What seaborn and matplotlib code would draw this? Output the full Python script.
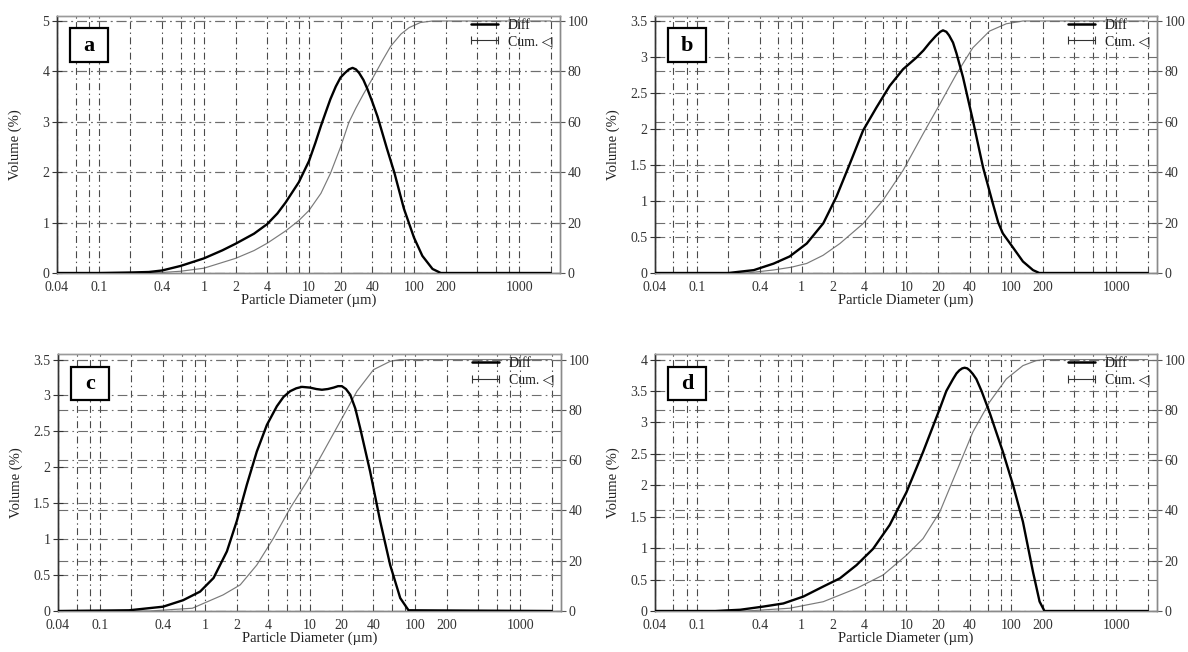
import matplotlib
matplotlib.use("Agg")
import matplotlib.pyplot as plt
import seaborn as sns
import pandas as pd
from matplotlib.lines import Line2D
from matplotlib.patches import Rectangle
from matplotlib.ticker import FixedLocator, NullFormatter

# ---------------- data ----------------
panel_names = ["a", "b", "c", "d"]

a_diff_x = [0.04, 0.1, 0.2, 0.3, 0.4, 0.6, 1.0, 1.5, 2.0, 3.0, 4.0, 5.0, 6.0, 8.0, 10, 11.5, 13, 14.5, 16, 18, 20, 22, 24, 26, 28, 30, 33, 36, 40, 45, 55, 65, 80, 100, 120, 150, 180, 2000]
a_diff_y = [0, 0, 0.01, 0.02, 0.05, 0.14, 0.29, 0.45, 0.58, 0.78, 0.97, 1.18, 1.40, 1.80, 2.22, 2.58, 2.92, 3.20, 3.45, 3.70, 3.88, 3.97, 4.04, 4.07, 4.04, 3.97, 3.83, 3.65, 3.40, 3.10, 2.48, 1.99, 1.28, 0.70, 0.34, 0.08, 0, 0]
a_cum_x = [0.04, 0.2, 0.4, 0.6, 1, 2, 3, 4, 6, 8, 10, 13, 16, 20, 24, 28, 33, 40, 50, 60, 75, 90, 115, 150, 2000]
a_cum_y = [0, 0, 0.2, 0.7, 1.9, 5.8, 8.9, 11.8, 16.7, 20.8, 24.8, 31.6, 39.5, 50, 59.8, 65.5, 71.0, 77, 84.3, 90, 94.8, 97.4, 99.4, 100, 100]

b_diff_x = [0.04, 0.2, 0.35, 0.54, 0.77, 1.12, 1.61, 2.15, 2.89, 3.86, 5.18, 6.93, 9.28, 12.4, 14.5, 16.7, 19, 21, 22.3, 24, 25.5, 27.8, 30, 34.6, 43, 53.7, 66.8, 75, 83, 103, 129, 161, 185, 2000]
b_diff_y = [0, 0, 0.04, 0.13, 0.23, 0.41, 0.69, 1.06, 1.52, 1.98, 2.30, 2.60, 2.83, 2.99, 3.09, 3.20, 3.29, 3.35, 3.37, 3.35, 3.30, 3.20, 3.05, 2.72, 2.12, 1.47, 0.96, 0.70, 0.55, 0.36, 0.16, 0.04, 0, 0]
b_cum_x = [0.04, 0.3, 0.54, 0.8, 1.12, 1.6, 2.32, 3.86, 5.98, 9.28, 14.4, 20.8, 29.9, 43, 62, 89.6, 129, 2000]
b_cum_y = [0, 0, 1.2, 2.3, 3.8, 7.0, 11.7, 19.6, 28.9, 40.7, 55.2, 67, 78.9, 89.4, 96, 98.9, 100, 100]

c_diff_x = [0.04, 0.19, 0.40, 0.62, 0.90, 1.21, 1.62, 2.01, 2.51, 3.12, 3.89, 4.84, 5.6, 6.48, 7.4, 8.37, 10.0, 11.5, 13.0, 14.8, 16.8, 18.5, 20.1, 22, 24.2, 27, 30, 37.4, 46.6, 58, 72.3, 86.7, 2000]
c_diff_y = [0, 0.01, 0.06, 0.15, 0.27, 0.46, 0.83, 1.25, 1.76, 2.22, 2.59, 2.85, 2.98, 3.06, 3.10, 3.12, 3.11, 3.09, 3.08, 3.09, 3.11, 3.13, 3.13, 3.09, 3.01, 2.82, 2.55, 1.94, 1.25, 0.64, 0.18, 0.01, 0]
c_cum_x = [0.04, 0.3, 0.76, 1.49, 2.17, 3.12, 4.5, 6.48, 9.35, 13.5, 19.4, 28, 40.3, 58, 72, 2000]
c_cum_y = [0, 0, 1.1, 6.4, 10.4, 18.3, 29, 40.9, 51.5, 63.5, 75.4, 87.4, 96, 99.3, 100, 100]

d_diff_x = [0.04, 0.15, 0.26, 0.43, 0.67, 1.04, 1.61, 2.32, 3.34, 4.81, 6.93, 10, 14.4, 20.8, 24, 27.8, 30, 32, 34, 35.9, 38, 40, 43, 46.4, 52, 62, 83.2, 104, 129, 161, 186, 207, 2000]
d_diff_y = [0, 0, 0.02, 0.07, 0.12, 0.23, 0.39, 0.52, 0.73, 0.99, 1.37, 1.89, 2.53, 3.22, 3.50, 3.69, 3.78, 3.83, 3.86, 3.87, 3.86, 3.83, 3.77, 3.69, 3.50, 3.16, 2.53, 2.00, 1.42, 0.62, 0.15, 0, 0]
d_cum_x = [0.04, 0.3, 0.77, 1.61, 3.34, 5.98, 10, 14.4, 20.8, 29.9, 43, 62, 89.6, 129, 173, 210, 2000]
d_cum_y = [0, 0, 1.1, 3.7, 9, 14.3, 22.2, 28.8, 39.4, 55.3, 71.2, 83.1, 92.3, 97.6, 99.6, 100, 100]

left_ymax = [5, 3.5, 3.5, 4]
left_ystep = [1, 0.5, 0.5, 0.5]
right_ticks = [0, 20, 40, 60, 80, 100]

x_major = [0.04, 0.1, 0.4, 1, 2, 4, 10, 20, 40, 100, 200, 1000]
x_major_labels = ["0.04", "0.1", "0.4", "1", "2", "4", "10", "20", "40", "100", "200", "1000"]
x_grid = [0.04, 0.06, 0.08, 0.1, 0.2, 0.4, 0.6, 0.8, 1, 2, 4, 6, 8, 10, 20, 40, 60, 80,
          100, 200, 400, 600, 800, 1000, 2000]

x_label = "Particle Diameter (\u00b5m)"
y_label = "Volume (%)"
legend_labels = ["Diff", "Cum. \u25c1"]

# ---------------- style ----------------
sns.set_theme(style="white")
plt.rcParams["font.family"] = ["Liberation Serif", "DejaVu Sans"]
plt.rcParams["lines.scale_dashes"] = False
plt.rcParams["axes.unicode_minus"] = False

W, H = 1188, 652
fig = plt.figure(figsize=(W / 100, H / 100), dpi=100)
fig.patch.set_facecolor("white")

# axes boxes in pixels: left, top, right, bottom
boxes = [(57, 15.7, 560, 273), (655, 15.7, 1157, 273),
         (58, 354.3, 561, 611), (655, 354.3, 1157, 611)]

diffs = [(a_diff_x, a_diff_y), (b_diff_x, b_diff_y), (c_diff_x, c_diff_y), (d_diff_x, d_diff_y)]
cums = [(a_cum_x, a_cum_y), (b_cum_x, b_cum_y), (c_cum_x, c_cum_y), (d_cum_x, d_cum_y)]

vgrid_style = (0, (5, 2.5, 1, 2.5))
hgrid_style = (0, (7, 3, 1.2, 3))
minor_ticks = [v for v in x_grid if v not in x_major]
pad_factor = 1.021

for i, name in enumerate(panel_names):
    l, t, r, b = boxes[i]
    ax = fig.add_axes([l / W, 1 - b / H, (r - l) / W, (b - t) / H])
    ax2 = ax.twinx()
    ax.set_zorder(2)
    ax2.set_zorder(1)
    ax.patch.set_visible(False)
    ax2.patch.set_visible(False)

    ax.set_xscale("log")
    dx, dy = diffs[i]
    cx, cy = cums[i]
    sns.lineplot(x=cx, y=cy, ax=ax2, color="#7a7a7a", linewidth=0.85, sort=False, zorder=3)
    sns.lineplot(x=dx, y=dy, ax=ax, color="black", linewidth=1.7, sort=False, zorder=4)

    ax.set_xlim(0.04, 2450)
    ymax = left_ymax[i]
    ax.set_ylim(0, ymax * pad_factor)
    ax2.set_ylim(0, 100 * pad_factor)
    nsteps = int(round(ymax / left_ystep[i]))
    yt = [round(k * left_ystep[i], 2) for k in range(nsteps + 1)]
    ax.set_yticks(yt)
    ax.set_yticklabels([f"{v:g}" for v in yt])
    ax2.set_yticks(right_ticks)
    ax2.set_yticklabels([str(v) for v in right_ticks])

    ax.xaxis.set_major_locator(FixedLocator(x_major))
    ax.set_xticklabels(x_major_labels)
    ax.xaxis.set_minor_locator(FixedLocator(minor_ticks))
    ax.xaxis.set_minor_formatter(NullFormatter())

    ax.grid(True, which="both", axis="x", color="#4a4a4a", linewidth=0.8, linestyle=vgrid_style)
    ax.grid(True, which="major", axis="y", color="#6e6e6e", linewidth=0.8, linestyle=hgrid_style)
    ax2.grid(True, which="major", axis="y", color="#6e6e6e", linewidth=0.8, linestyle=hgrid_style)

    ax.tick_params(axis="x", which="major", direction="inout", length=4, width=0.8,
                   color="#444", labelsize=10, labelcolor="#333", pad=3.5)
    ax.tick_params(axis="x", which="minor", length=0)
    ax.tick_params(axis="y", direction="inout", length=7, width=0.8, color="#333",
                   labelsize=10, labelcolor="#333", pad=2, left=True)
    ax2.tick_params(axis="y", direction="inout", length=7, width=0.8, color="#555",
                    labelsize=10, labelcolor="#333", pad=2, right=True)

    for sp_ax in (ax, ax2):
        sp_ax.spines["top"].set_color("#9a9a9a")
        sp_ax.spines["right"].set_color("#8a8a8a")
        sp_ax.spines["bottom"].set_color("#8a8a8a")
        sp_ax.spines["left"].set_color("#333333")
        for sp in sp_ax.spines.values():
            sp.set_linewidth(1.0)

    ax.set_xlabel(x_label, fontsize=10.5, color="#222")
    ax.xaxis.set_label_coords(0.5, -0.078)
    ax.set_ylabel(y_label, fontsize=10.5, color="#222")
    ax.yaxis.set_label_coords(-35 / (r - l), 0.5)
    ax2.set_ylabel("")

    handles = [Line2D([0, 1], [0, 0], color="black", linewidth=1.8),
               Line2D([0, 1], [0, 0], color="#333", linewidth=0.8, marker="|",
                      markersize=6, markeredgewidth=0.8)]
    leg = ax.legend(handles, legend_labels, loc="upper right", bbox_to_anchor=(0.995, 1.01),
                    borderaxespad=0, frameon=False, fontsize=10, handlelength=2.5,
                    handletextpad=0.4, labelspacing=0.25, numpoints=2)
    for txt in leg.get_texts():
        txt.set_color("#222")
    leg.set_zorder(10)

    ax.add_patch(Rectangle((0.026, 0.821), 0.076, 0.13, transform=ax.transAxes,
                           facecolor="white", edgecolor="black", linewidth=1.6,
                           zorder=8, clip_on=False))
    ax.text(0.064, 0.884, name, transform=ax.transAxes, ha="center", va="center",
            fontsize=16, fontweight="bold", color="black", zorder=9)

fig.savefig("out.png", dpi=100, facecolor="white")
